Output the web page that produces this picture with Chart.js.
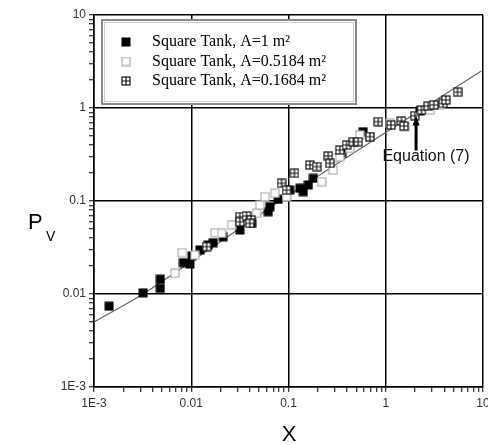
<!DOCTYPE html>
<html>
<head>
<meta charset="utf-8">
<script src="https://cdn.jsdelivr.net/npm/chart.js@4/dist/chart.umd.min.js"></script>
<style>
  html, body { margin: 0; padding: 0; background: #fff; }
  #wrap { width: 488px; height: 445px; }
</style>
</head>
<body>
<div id="wrap"><canvas id="pvChart" width="488" height="445"></canvas></div>
<script>
// values
const blackX = [0.00143, 0.0032, 0.0048, 0.0048, 0.0083, 0.0097, 0.0102, 0.0123, 0.0150, 0.0168, 0.0213, 0.0316, 0.0418, 0.0618, 0.0644, 0.0783, 0.103, 0.131, 0.142, 0.160, 0.180, 0.351, 0.586, 2.24];
const blackY = [0.0074, 0.0103, 0.0115, 0.0144, 0.0217, 0.021, 0.0256, 0.0297, 0.0337, 0.0356, 0.0413, 0.0488, 0.0575, 0.0767, 0.0869, 0.104, 0.131, 0.137, 0.126, 0.149, 0.175, 0.326, 0.556, 0.929];

const openX = [0.0068, 0.0081, 0.0109, 0.0175, 0.0205, 0.026, 0.047, 0.0508, 0.0572, 0.0724, 0.0955, 0.219, 0.288, 0.288, 0.337, 0.428, 0.542, 0.687, 1.1, 1.57, 2.84, 3.6];
const openY = [0.0167, 0.0278, 0.0262, 0.0456, 0.045, 0.0552, 0.0738, 0.0906, 0.111, 0.121, 0.111, 0.161, 0.288, 0.215, 0.299, 0.369, 0.513, 0.491, 0.684, 0.63, 0.95, 1.08];

const crossX = [0.0144, 0.0316, 0.0316, 0.037, 0.0411, 0.040, 0.0849, 0.0955, 0.115, 0.166, 0.195, 0.256, 0.266, 0.337, 0.395, 0.463, 0.52, 0.687, 0.836, 1.13, 1.45, 1.54, 1.99, 2.33, 2.73, 3.12, 3.89, 4.15, 5.47];
const crossY = [0.0323, 0.0678, 0.0598, 0.069, 0.0625, 0.0575, 0.155, 0.131, 0.199, 0.244, 0.234, 0.305, 0.254, 0.353, 0.40, 0.434, 0.434, 0.491, 0.713, 0.656, 0.725, 0.64, 0.826, 0.95, 1.05, 1.08, 1.12, 1.22, 1.48];

// Equation (7) curve
const eqX = [0.001, 0.0033, 0.1, 2, 9.6];
const eqY = [0.005, 0.0102, 0.115, 0.87, 2.5];

const seriesNames = ['Square Tank, A=1 m²', 'Square Tank, A=0.5184 m²', 'Square Tank, A=0.1684 m²'];
const decades = [0.001, 0.01, 0.1, 1, 10];
const decadeLabels = ['1E-3', '0.01', '0.1', '1', '10'];

function toPoints(xs, ys) {
    return xs.map((x, i) => ({ x: x, y: ys[i] }));
}

function decadeIndex(v) {
    return decades.findIndex(d => Math.abs(v / d - 1) < 1e-6);
}

function logTicks() {
    const out = [];
    decades.forEach((d, i) => {
        out.push({ value: d });
        if (i < decades.length - 1) {
            for (let k = 2; k <= 9; k++) out.push({ value: d * k });
        }
    });
    return out;
}

// marker images
function makeMarker(kind) {
    const c = document.createElement('canvas');
    c.width = 10; c.height = 10;
    const g = c.getContext('2d');
    if (kind === 'solid') {
        g.fillStyle = '#000';
        g.fillRect(0.5, 0.5, 9, 9);
    } else if (kind === 'open') {
        g.fillStyle = '#fff';
        g.fillRect(1, 1, 8, 8);
        g.strokeStyle = '#b0b0b0';
        g.lineWidth = 1.2;
        g.strokeRect(1, 1, 8, 8);
    } else {
        g.fillStyle = '#fff';
        g.fillRect(1, 1, 8, 8);
        g.strokeStyle = '#111';
        g.lineWidth = 1.2;
        g.strokeRect(1, 1, 8, 8);
        g.beginPath();
        g.moveTo(5, 1); g.lineTo(5, 9);
        g.moveTo(1, 5); g.lineTo(9, 5);
        g.stroke();
    }
    return c;
}

const markers = [makeMarker('solid'), makeMarker('open'), makeMarker('cross')];

const extrasPlugin = {
    id: 'extras',
    afterDraw(chart) {
        const ctx = chart.ctx;
        const xs = chart.scales.x, ys = chart.scales.y;
        ctx.save();

        // legend box
        ctx.fillStyle = '#fff';
        ctx.fillRect(102, 20, 254, 84);
        ctx.strokeStyle = '#8c8c8c';
        ctx.lineWidth = 2;
        ctx.strokeRect(102, 20, 254, 84);
        ctx.strokeStyle = '#d0d0d0';
        ctx.lineWidth = 1;
        ctx.strokeRect(104.5, 22.5, 249, 79);
        ctx.font = '16px "Liberation Serif", "Times New Roman", serif';
        ctx.fillStyle = '#000';
        ctx.textBaseline = 'middle';
        ctx.textAlign = 'left';
        seriesNames.forEach((name, i) => {
            const yy = 42 + i * 19.5;
            ctx.drawImage(markers[i], 121, yy - 5);
            ctx.fillText(name, 152, yy);
        });

        // Equation (7) annotation with arrow
        const ax = xs.getPixelForValue(2.05);
        const ay = ys.getPixelForValue(0.85);
        ctx.strokeStyle = '#000';
        ctx.lineWidth = 3;
        ctx.beginPath();
        ctx.moveTo(ax, ay + 36);
        ctx.lineTo(ax, ay + 8);
        ctx.stroke();
        ctx.beginPath();
        ctx.moveTo(ax, ay + 1);
        ctx.lineTo(ax - 3.5, ay + 11);
        ctx.lineTo(ax + 3.5, ay + 11);
        ctx.closePath();
        ctx.fill();
        ctx.font = '16px "Liberation Sans", Arial, sans-serif';
        ctx.textAlign = 'center';
        ctx.fillStyle = '#111';
        ctx.fillText('Equation (7)', 426, 157);

        // axis titles
        ctx.fillStyle = '#000';
        ctx.font = '22px "Liberation Sans", Arial, sans-serif';
        ctx.textAlign = 'left';
        ctx.textBaseline = 'alphabetic';
        ctx.fillText('P', 28, 229);
        ctx.font = '14px "Liberation Sans", Arial, sans-serif';
        ctx.fillText('V', 46, 241);
        ctx.font = '22px "Liberation Sans", Arial, sans-serif';
        ctx.textAlign = 'center';
        ctx.fillText('X', 289, 441);
        ctx.restore();
    }
};

function axisOptions(isX) {
    return {
        type: 'logarithmic',
        min: 0.001,
        max: 10,
        afterBuildTicks: scale => { scale.ticks = logTicks(); },
        afterFit: scale => {
            if (isX) {
                scale.height = 58;
                scale.paddingLeft = 0;
                scale.paddingRight = 0;
            } else {
                scale.width = 94;
                scale.paddingTop = 0;
                scale.paddingBottom = 0;
            }
        },
        ticks: {
            autoSkip: false,
            maxRotation: 0,
            padding: isX ? 4 : 3,
            color: '#333',
            font: { family: '"Liberation Sans", Arial, sans-serif', size: 12 },
            callback: value => {
                const i = decadeIndex(value);
                return i >= 0 ? decadeLabels[i] : '';
            }
        },
        grid: {
            color: ctx => (ctx.tick && decadeIndex(ctx.tick.value) >= 0) ? '#000' : 'rgba(0,0,0,0)',
            lineWidth: 1.5,
            tickColor: '#000',
            tickLength: 5,
            tickWidth: 1
        },
        border: { color: '#000', width: 1.5 }
    };
}

new Chart(document.getElementById('pvChart').getContext('2d'), {
    type: 'scatter',
    data: {
        datasets: [
            {
                label: 'Equation (7)',
                data: toPoints(eqX, eqY),
                showLine: true,
                borderColor: '#6a6a6a',
                borderWidth: 1.2,
                pointRadius: 0,
                tension: 0.2,
                order: 4
            },
            {
                label: seriesNames[0],
                data: toPoints(blackX, blackY),
                pointStyle: markers[0],
                order: 3
            },
            {
                label: seriesNames[1],
                data: toPoints(openX, openY),
                pointStyle: markers[1],
                order: 2
            },
            {
                label: seriesNames[2],
                data: toPoints(crossX, crossY),
                pointStyle: markers[2],
                order: 1
            }
        ]
    },
    options: {
        responsive: false,
        animation: false,
        devicePixelRatio: 1,
        layout: { padding: { left: 0, right: 5, top: 15, bottom: 0 } },
        plugins: {
            legend: { display: false },
            tooltip: { enabled: false }
        },
        scales: {
            x: axisOptions(true),
            y: axisOptions(false)
        }
    },
    plugins: [extrasPlugin]
});
</script>
</body>
</html>
